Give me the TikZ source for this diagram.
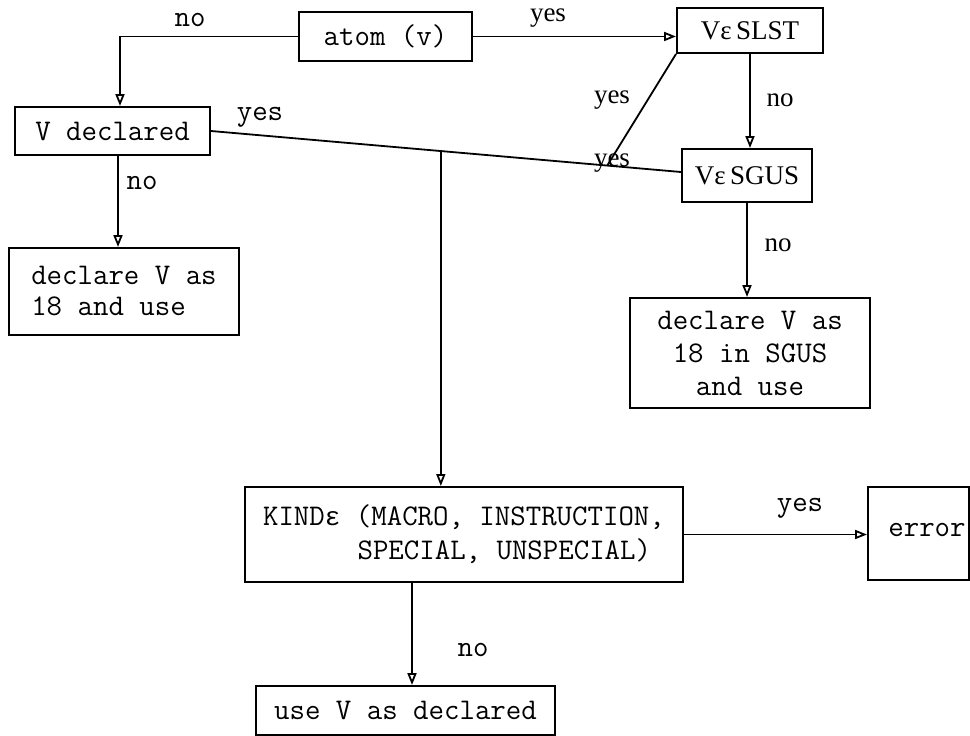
\documentclass[tikz,border=0pt]{standalone}
\usepackage{fontspec}
\setmainfont{Liberation Serif}
\newfontfamily\epsmono{Liberation Mono}
\usetikzlibrary{arrows.meta}
\begin{document}
\begin{tikzpicture}[x=1pt,y=-1pt,
  box/.style={draw,line width=2pt,rectangle,inner sep=0pt,font=\ttfamily\fontsize{30}{31}\selectfont},
  sbox/.style={draw,line width=2pt,rectangle,inner sep=0pt,font=\fontsize{27}{31}\selectfont},
  conn/.style={line width=1.8pt},
  arr/.style={conn,-{Triangle[open,length=12pt,width=9pt]}},
  tlab/.style={font=\ttfamily\fontsize{30}{31}\selectfont,inner sep=0pt},
  slab/.style={font=\fontsize{27}{31}\selectfont,inner sep=0pt}]
\useasboundingbox (0,0) rectangle (970,736);
% boxes
\node[box,minimum width=173,minimum height=49] (atom) at (385.5,36.5) {atom (v)};
\node[sbox,minimum width=146,minimum height=45] (slst) at (750,30.5) {Vε\,SLST};
\node[box,minimum width=195,minimum height=48] (vdecl) at (112.5,131) {V declared};
\node[sbox,minimum width=130,minimum height=53] (sgus) at (747,175.5) {Vε\,SGUS};
\node[box,minimum width=230,minimum height=87,align=left] (decla) at (124,291.5) {declare V as\\18 and use};
\node[box,minimum width=240,minimum height=110,align=center] (declb) at (750,353) {declare V as\\[2pt]18 in SGUS\\[2pt]and use};
\node[box,minimum width=438,minimum height=95,align=left] (kind) at (464,534.5) {KIND{\epsmono\fontsize{26}{31}\selectfont ε} (MACRO, INSTRUCTION,\\[3pt]\hspace*{3.15em}SPECIAL, UNSPECIAL)};
\node[box,minimum width=101,minimum height=93] (err) at (918.5,533.5) {};
\node[tlab] (errt) at (927,530) {error};
\node[box,minimum width=299,minimum height=49] (usev) at (405.5,710.5) {use V as declared};
% helper coordinates
\path (vdecl.east) -- ([yshift=3.5pt]sgus.west) coordinate[pos=0.489] (m2) coordinate[pos=0.843] (m1);
\coordinate (pa) at ([xshift=7.5pt]vdecl.north);
\coordinate (pb) at ([xshift=5.5pt]vdecl.south);
\coordinate (pc) at ([xshift=6.5pt]usev.north);
% connectors
\draw[arr] (atom.west) -| (pa);
\draw[arr] (atom.east) -- (atom.east -| slst.west);
\draw[arr] (slst.south) -- (slst.south |- sgus.north);
\draw[conn] (vdecl.east) -- ([yshift=3.5pt]sgus.west);
\draw[conn] (slst.south west) -- (m1);
\draw[arr] (m2) -- (m2 |- kind.north);
\draw[arr] (pb) -- (pb |- decla.north);
\draw[arr] (sgus.south) -- (sgus.south |- declb.north);
\draw[arr] (kind.east) -- (kind.east -| err.west);
\draw[arr] (kind.south -| pc) -- (pc);
% labels
\node[tlab] (l1) at (190,20) {no};
\node[slab] (l2) at (548,18) {yes};
\node[slab] (l3) at (612,100) {yes};
\node[slab] (l4) at (780,100) {no};
\node[tlab] (l5) at (260,117) {yes};
\node[slab] (l6) at (612,163) {yes};
\node[tlab] (l7) at (142,183) {no};
\node[slab] (l8) at (778,245) {no};
\node[tlab] (l9) at (800,508) {yes};
\node[tlab] (l10) at (473,650) {no};
\end{tikzpicture}
\end{document}
